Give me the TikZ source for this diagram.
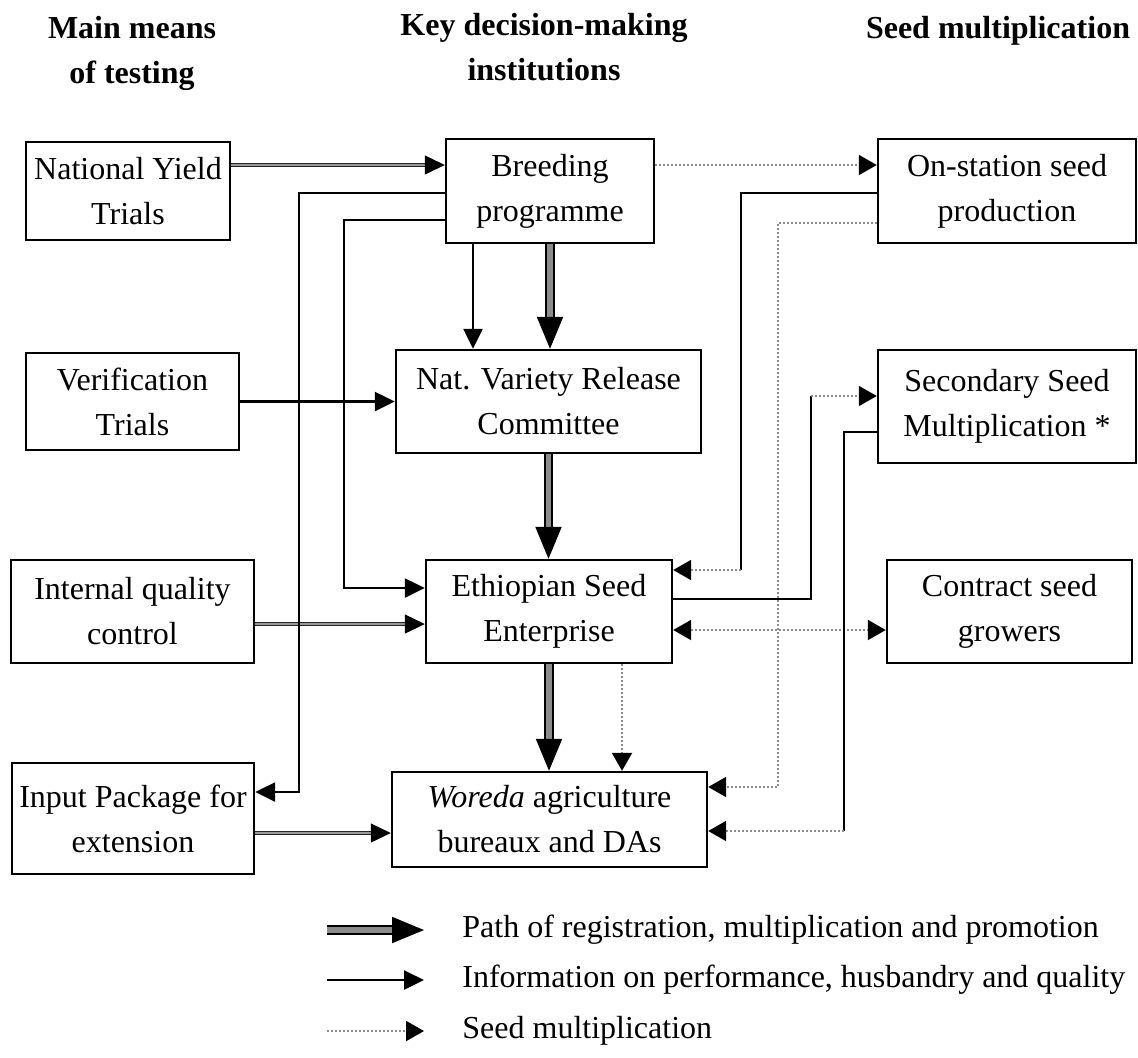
\documentclass[tikz,border=0pt]{standalone}
\usepackage{fontspec}
\setmainfont{Liberation Serif}
\usetikzlibrary{arrows.meta}

\tikzset{
  box/.style={draw, line width=1.2pt, align=center, inner sep=2pt, font=\fontsize{16}{22.5}\selectfont},
  head/.style={align=center, font=\bfseries\fontsize{16}{22.5}\selectfont},
  lgtext/.style={anchor=west, inner sep=3pt, font=\fontsize{16}{19}\selectfont},
  bigtip/.tip={Triangle[length=16pt,width=13pt,color=black]},
  infotip/.tip={Triangle[length=10pt,width=9.5pt,color=black]},
  seedtip/.tip={Triangle[length=9pt,width=10pt,color=black]},
  regpath/.style={draw, line width=1pt, double=black!45, double distance=2.6pt, -bigtip},
  infoline/.style={draw, line width=1.2pt},
  info/.style={infoline, -infotip},
  infogray/.style={draw=black!85, line width=0.6pt, double=black!40, double distance=1.2pt, -infotip},
  seedline/.style={draw=black!45, line width=1pt, dash pattern=on 1pt off 1pt},
  seed/.style={seedline, -seedtip},
}

\begin{document}
\begin{tikzpicture}[x=0.5pt, y=-0.5pt]
\useasboundingbox (0,0) rectangle (1138,1057);

\node[head] (hdtest) at (132,53)  {Main means\\of testing};
\node[head] (hddec)  at (544,47)  {Key decision-making\\institutions};
\node[head] (hdseed) at (998,31)  {Seed multiplication};

\node[box, minimum width=102pt,   minimum height=49pt]   (nyt)   at (128,191)     {National Yield\\Trials};
\node[box, minimum width=104pt,   minimum height=52pt]   (breed) at (550,191)     {Breeding\\programme};
\node[box, minimum width=129pt,   minimum height=52pt]   (onst)  at (1007,191)    {On-station seed\\production};
\node[box, minimum width=106.5pt, minimum height=48.5pt] (verif) at (132.5,401.5) {Verification\\Trials};
\node[box, minimum width=152.5pt, minimum height=51.5pt] (nvrc)  at (548.5,401.5) {Nat. Variety Release\\Committee};
\node[box, minimum width=129pt,   minimum height=56.5pt] (secm)  at (1007,406.5)  {Secondary Seed\\Multiplication *};
\node[box, minimum width=121.5pt, minimum height=51.5pt] (iqc)   at (132.5,611.5) {Internal quality\\control};
\node[box, minimum width=123pt,   minimum height=51.5pt] (ese)   at (549,611.5)   {Ethiopian Seed\\Enterprise};
\node[box, minimum width=122.5pt, minimum height=51.5pt] (contr) at (1009.5,611.5) {Contract seed\\growers};
\node[box, minimum width=121pt,   minimum height=55.5pt] (inpk)  at (133,818.5)   {Input Package for\\extension};
\node[box, minimum width=157.5pt, minimum height=47.5pt] (wor)   at (549.5,819.5) {\textit{Woreda} agriculture\\bureaux and DAs};

\coordinate (busA) at (299,500);
\coordinate (busB) at (344,400);
\coordinate (busC) at (741,570);
\coordinate (busD) at (778,500);
\coordinate (busE) at (811,396);
\coordinate (busF) at (844,831);

\path
  (breed.south) edge[regpath] (breed.south |- nvrc.north)
  (nvrc.south)  edge[regpath] (nvrc.south |- ese.north)
  (ese.south)   edge[regpath] (ese.south |- wor.north);

\path
  ([yshift=13pt]nyt.east)     edge[infogray] ([yshift=13pt]breed.west)
  ([yshift=-6.25pt]iqc.east)  edge[infogray] ([yshift=-6.25pt]iqc.east -| ese.west)
  ([yshift=-7.25pt]inpk.east) edge[infogray] ([yshift=-7.25pt]inpk.east -| wor.west);

\path
  (verif.east) edge[info] (nvrc.west)
  ([xshift=-38.5pt]breed.south) edge[info] ([xshift=-38.5pt]breed.south |- nvrc.north);

\draw[info] ([yshift=-1pt]breed.west) -| (busA) |- ([yshift=13.25pt]inpk.east);
\draw[info] ([yshift=-14.5pt]breed.west) -| (busB) |- ([yshift=11.75pt]ese.west);

\path
  ([yshift=13pt]breed.east)  edge[seed] ([yshift=13pt]onst.west)
  ([xshift=36.5pt]ese.south) edge[seed] ([xshift=36.5pt]ese.south |- wor.north)
  ([yshift=-9.25pt]ese.east) edge[seedline, seedtip-seedtip] ([yshift=-9.25pt]contr.west);

\draw[seed] ([yshift=-16pt]onst.west) -| (busD) |- ([yshift=16.25pt]wor.east);
\draw[infoline] ([yshift=-1pt]onst.west) -| (busC);
\draw[seed] (busC) -- (busC -| ese.east);
\draw[infoline] ([yshift=6.25pt]ese.east) -| (busE);
\draw[seed] (busE) -- (busE -| secm.west);
\draw[infoline] ([yshift=-12.75pt]secm.west) -| (busF);
\draw[seed] (busF) -- (busF -| wor.east);

% legend
\node[lgtext] (lgpath) at (456,930)  {Path of registration, multiplication and promotion};
\node[lgtext] (lginfo) at (456,980)  {Information on performance, husbandry and quality};
\node[lgtext] (lgseed) at (456,1031) {Seed multiplication};
\coordinate (lgpathA) at (327,930);
\coordinate (lginfoA) at (327,980);
\coordinate (lgseedA) at (327,1031);
\draw[regpath] (lgpathA) -- ([xshift=-16pt]lgpath.west);
\draw[info]    (lginfoA) -- ([xshift=-16pt]lginfo.west);
\draw[seed]    (lgseedA) -- ([xshift=-16pt]lgseed.west);
\end{tikzpicture}
\end{document}
